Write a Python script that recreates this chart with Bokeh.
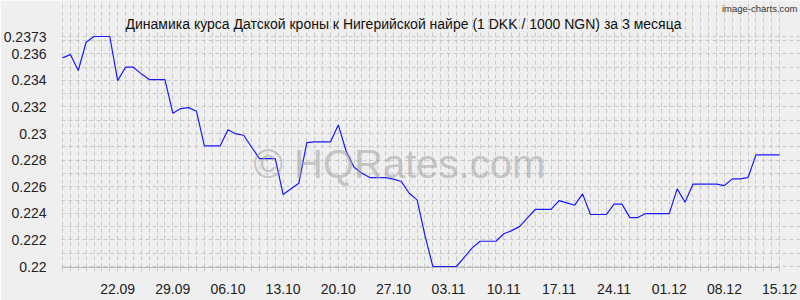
from bokeh.plotting import figure
from bokeh.models import Range1d, FixedTicker, CustomJSTickFormatter, Label
from bokeh.embed import file_html
from bokeh.resources import INLINE
import numpy as np

# DKK/NGN rate (1 DKK / 1000 NGN), daily, 15.09 .. 15.12
rates = [
    0.23569, 0.23594, 0.23474, 0.23687, 0.2373, 0.2373, 0.2373, 0.23398,
    0.23499, 0.23499, 0.23449, 0.23406, 0.23406, 0.23406, 0.23153, 0.23188,
    0.23195, 0.23168, 0.22907, 0.22907, 0.22907, 0.23028, 0.22997, 0.22987,
    0.22897, 0.22812, 0.22812, 0.22812, 0.22541, 0.22584, 0.22627, 0.22932,
    0.22937, 0.22937, 0.22937, 0.23065, 0.22867, 0.22747, 0.22702, 0.22669,
    0.22669, 0.22669, 0.22657, 0.22639, 0.22551, 0.22501, 0.22233, 0.2200,
    0.2200, 0.2200, 0.2200, 0.2207, 0.2214, 0.2219, 0.2219, 0.2219,
    0.22246, 0.2227, 0.2230, 0.22366, 0.22429, 0.22429, 0.22429, 0.22496,
    0.22479, 0.22461, 0.22546, 0.22391, 0.22391, 0.22391, 0.22469, 0.22469,
    0.22368, 0.22368, 0.22398, 0.22398, 0.22398, 0.22398, 0.22584, 0.22484,
    0.22619, 0.22619, 0.22619, 0.22619, 0.22609, 0.22659, 0.22659, 0.22669,
    0.2284, 0.2284, 0.2284, 0.2284,
]
x_tick_idx = [7, 14, 21, 28, 35, 42, 49, 56, 63, 70, 77, 84, 91]
x_tick_labels = ["22.09", "29.09", "06.10", "13.10", "20.10", "27.10", "03.11",
                 "10.11", "17.11", "24.11", "01.12", "08.12", "15.12"]
y_ticks = [0.22, 0.222, 0.224, 0.226, 0.228, 0.23, 0.232, 0.234, 0.236, 0.2373]
y_min, y_max = 0.22, 0.2373

title_text = "Динамика курса Датской кроны к Нигерийской найре (1 DKK / 1000 NGN) за 3 месяца"

n = len(rates)
idx = list(range(n))
BG = "#EFEFEF"

# layout: data area 720x230 px, placed at (59,36) on the 800x300 canvas;
# the frame is widened to the canvas top/right so texts there are drawn.
PLOT_W, PLOT_H = 720, 230
LEFT, TOP = 59, 36
ux = (n - 1) / PLOT_W            # data units per pixel (x)
uy = (y_max - y_min) / PLOT_H    # data units per pixel (y)
x_start = -1 * ux
x_end = (n - 1) + (800 - LEFT - PLOT_W) * ux
y_start = y_min - 1 * uy
y_end = y_max + TOP * uy
frame_left = LEFT - 1
frame_bottom = TOP + PLOT_H + 1

p = figure(width=800, height=300, output_backend="svg", toolbar_location=None,
           x_range=Range1d(x_start, x_end), y_range=Range1d(y_start, y_end),
           min_border_left=frame_left, min_border_right=0, min_border_top=0,
           min_border_bottom=300 - frame_bottom)
p.background_fill_color = BG
p.border_fill_color = BG
p.outline_line_color = None

# grids
p.xgrid.ticker = FixedTicker(ticks=idx)
p.xgrid.grid_line_color = "#C8C8C8"
p.xgrid.grid_line_dash = "4 3"
p.xgrid.bounds = (y_min, y_max)
grid_y = list(np.round(np.arange(y_min, y_max, 0.001), 4)) + [y_max]
p.ygrid.ticker = FixedTicker(ticks=grid_y)
p.ygrid.grid_line_color = "#C8C8C8"
p.ygrid.grid_line_dash = "4 3"
p.ygrid.bounds = (0, n - 1)

# y axis
p.yaxis.ticker = FixedTicker(ticks=y_ticks)
p.yaxis.formatter = CustomJSTickFormatter(code="return String(Math.round(tick*10000)/10000);")
p.yaxis.axis_line_color = None
p.yaxis.major_tick_line_color = None
p.yaxis.minor_tick_line_color = None
p.yaxis.major_label_text_font = "Liberation Sans"
p.yaxis.major_label_text_font_size = "14px"
p.yaxis.major_label_text_color = "#222222"
p.yaxis.major_label_standoff = 9

# x axis
p.xaxis.ticker = FixedTicker(ticks=x_tick_idx, minor_ticks=idx)
p.xaxis.bounds = (0, n - 1)
p.xaxis.major_label_overrides = {i: s for i, s in zip(x_tick_idx, x_tick_labels)}
p.xaxis.axis_line_color = "#BBBBBB"
p.xaxis.major_tick_line_color = None
p.xaxis.minor_tick_line_color = "#CCCCCC"
p.xaxis.minor_tick_in = 0
p.xaxis.minor_tick_out = 4
p.xaxis.major_tick_out = 0
p.xaxis.major_label_text_font = "Liberation Sans"
p.xaxis.major_label_text_font_size = "14px"
p.xaxis.major_label_text_color = "#222222"
p.xaxis.major_label_standoff = 12

# watermark
p.add_layout(Label(x=250 - frame_left, y=frame_bottom - 163, x_units="screen", y_units="screen",
                   text="© HQRates.com", text_font="Liberation Sans",
                   text_font_size="40px", text_color="#A0A0A0", text_alpha=0.55,
                   text_baseline="alphabetic", text_align="left"))

p.line(idx, rates, line_color="#1A1AFF", line_width=1.2)

# title and credit
p.add_layout(Label(x=400 - frame_left, y=frame_bottom - 23, x_units="screen", y_units="screen",
                   text=title_text, text_font="Liberation Sans",
                   text_font_size="14px", text_color="#111111",
                   text_align="center", text_baseline="alphabetic"))
p.add_layout(Label(x=794 - frame_left, y=frame_bottom - 7.5, x_units="screen", y_units="screen",
                   text="image-charts.com", text_font="Liberation Sans",
                   text_font_size="9.5px", text_color="#333333",
                   text_align="right", text_baseline="middle"))

open("out.html", "w").write(file_html(p, INLINE))
